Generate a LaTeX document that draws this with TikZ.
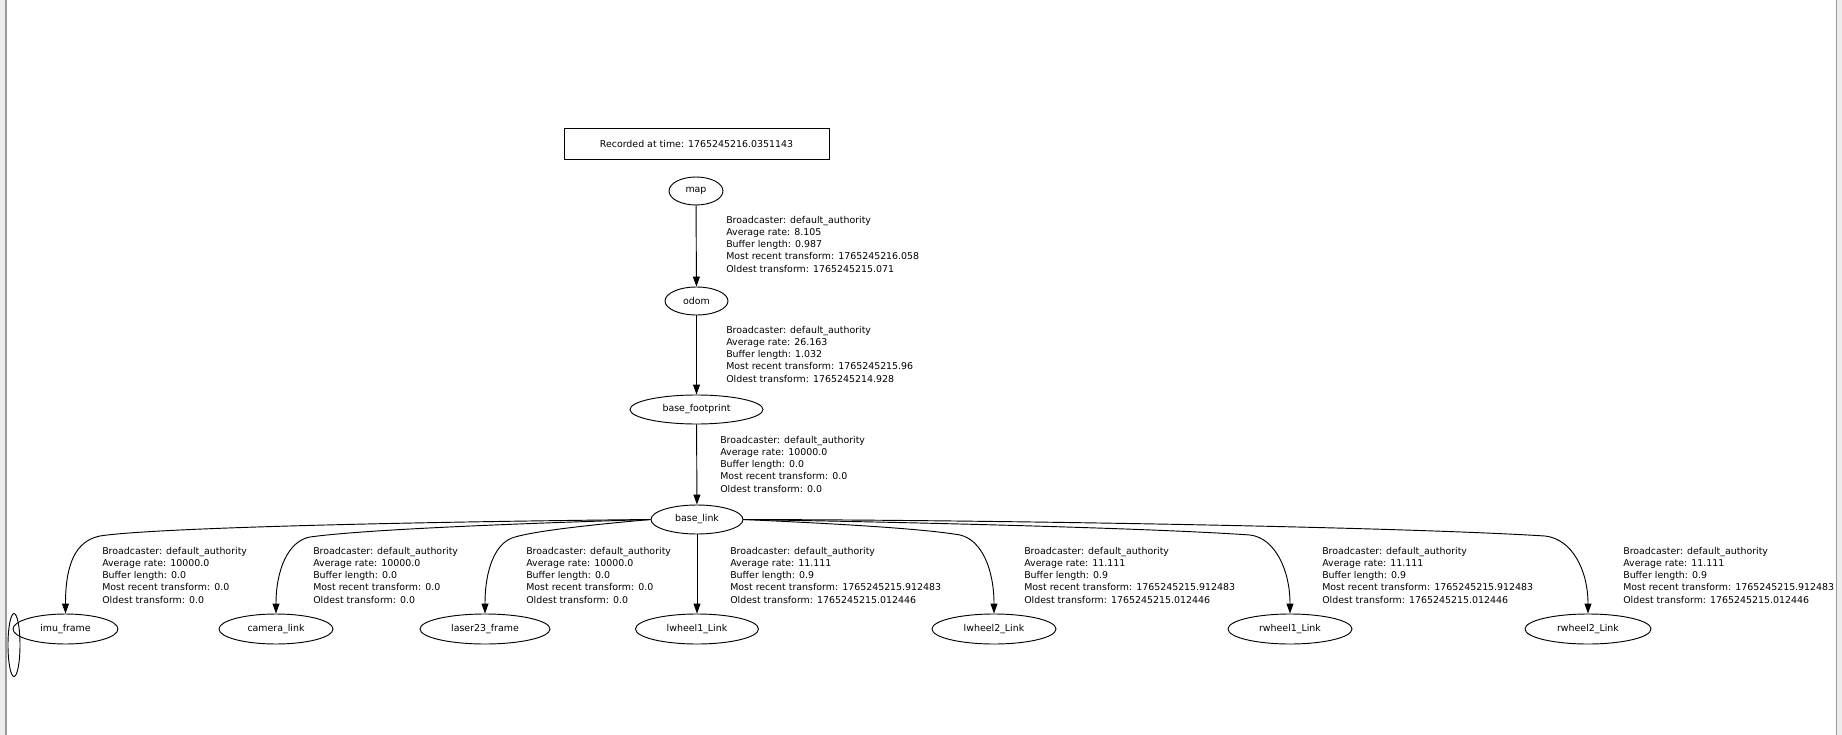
\documentclass[tikz,border=0pt]{standalone}
\usepackage{fontspec}
\setmainfont{DejaVu Sans}
\usetikzlibrary{shapes.geometric,arrows.meta}
\begin{document}
\begin{tikzpicture}[x=0.75pt,y=-0.75pt,
  every node/.style={font=\fontsize{7.07}{9.11}\selectfont},
  sz/.style 2 args={minimum width=#1*0.75pt,minimum height=#2*0.75pt},
  frame/.style={draw, ellipse, inner sep=0pt, line width=0.7pt},
  recbox/.style={draw, rectangle, inner sep=0pt, line width=0.7pt},
  lbl/.style={anchor=north west, align=left, inner sep=0pt},
  link/.style={draw, line width=0.7pt, -{Triangle[length=7.5pt,width=5.25pt]}},
]
\useasboundingbox (0,0) rectangle (1842,735);
\fill[white] (0,0) rectangle (1842,735);
\fill[black!7] (0,0) rectangle (5,735);
\fill[black!40] (5,0) rectangle (6.5,735);
\fill[black!40] (1835.5,0) rectangle (1837,735);
\fill[black!7] (1837,0) rectangle (1842,735);

\node[recbox, sz={265}{31}] (rec) at (696.5,143.5) {Recorded at time: 1765245216.0351143};

\node[frame, sz={54}{28}] (map) at (696,191) {map};
\node[frame, sz={63}{28}] (odom) at (696.5,301) {odom};
\node[frame, sz={133}{29}] (bf) at (696.5,409.5) {base\_footprint};
\node[frame, sz={92}{29}] (bl) at (697,519.5) {base\_link};

\node[frame, sz={105}{30}] (imu) at (65.5,629) {imu\_frame};
\node[frame, sz={12}{63}] (loop) at (14,645) {};
\node[frame, sz={114}{30}] (cam) at (276,629) {camera\_link};
\node[frame, sz={130}{30}] (las) at (485,629) {laser23\_frame};
\node[frame, sz={123}{30}] (lw1) at (697,629) {lwheel1\_Link};
\node[frame, sz={124}{30}] (lw2) at (994,629) {lwheel2\_Link};
\node[frame, sz={124}{30}] (rw1) at (1290,629) {rwheel1\_Link};
\node[frame, sz={126}{30}] (rw2) at (1588,629) {rwheel2\_Link};

\draw[link] (map) -- (odom);
\draw[link] (odom) -- (bf);
\draw[link] (bf) -- (bl);
\draw[link] (bl) -- (lw1);
\draw[link] (bl.west) .. controls (400,522) and (150,528) .. (100,536) .. controls (75,541) and (65.5,565) .. (imu.north);
\draw[link] (bl.west) .. controls (500,524) and (360,530) .. (310,537) .. controls (288,541) and (276,570) .. (cam.north);
\draw[link] (bl.west) .. controls (600,524) and (540,530) .. (515,537) .. controls (495,542) and (485,570) .. (las.north);
\draw[link] (bl.east) .. controls (820,523) and (920,528) .. (960,535) .. controls (982,540) and (994,570) .. (lw2.north);
\draw[link] (bl.east) .. controls (900,522) and (1150,528) .. (1250,535) .. controls (1275,538) and (1290,570) .. (rw1.north);
\draw[link] (bl.east) .. controls (1000,520) and (1400,527) .. (1545,536) .. controls (1572,539) and (1588,570) .. (rw2.north);

\node[lbl] (l1) at (726,216) {Broadcaster: default\_authority\\Average rate: 8.105\\Buffer length: 0.987\\Most recent transform: 1765245216.058\\Oldest transform: 1765245215.071};
\node[lbl] (l2) at (726,326) {Broadcaster: default\_authority\\Average rate: 26.163\\Buffer length: 1.032\\Most recent transform: 1765245215.96\\Oldest transform: 1765245214.928};
\node[lbl] (l3) at (720,436) {Broadcaster: default\_authority\\Average rate: 10000.0\\Buffer length: 0.0\\Most recent transform: 0.0\\Oldest transform: 0.0};

\node[lbl] (l4) at (102,547) {Broadcaster: default\_authority\\Average rate: 10000.0\\Buffer length: 0.0\\Most recent transform: 0.0\\Oldest transform: 0.0};
\node[lbl] (l5) at (313,547) {Broadcaster: default\_authority\\Average rate: 10000.0\\Buffer length: 0.0\\Most recent transform: 0.0\\Oldest transform: 0.0};
\node[lbl] (l6) at (526,547) {Broadcaster: default\_authority\\Average rate: 10000.0\\Buffer length: 0.0\\Most recent transform: 0.0\\Oldest transform: 0.0};
\node[lbl] (l7) at (730,547) {Broadcaster: default\_authority\\Average rate: 11.111\\Buffer length: 0.9\\Most recent transform: 1765245215.912483\\Oldest transform: 1765245215.012446};
\node[lbl] (l8) at (1024,547) {Broadcaster: default\_authority\\Average rate: 11.111\\Buffer length: 0.9\\Most recent transform: 1765245215.912483\\Oldest transform: 1765245215.012446};
\node[lbl] (l9) at (1322,547) {Broadcaster: default\_authority\\Average rate: 11.111\\Buffer length: 0.9\\Most recent transform: 1765245215.912483\\Oldest transform: 1765245215.012446};
\node[lbl] (l10) at (1623,547) {Broadcaster: default\_authority\\Average rate: 11.111\\Buffer length: 0.9\\Most recent transform: 1765245215.912483\\Oldest transform: 1765245215.012446};
\end{tikzpicture}
\end{document}
